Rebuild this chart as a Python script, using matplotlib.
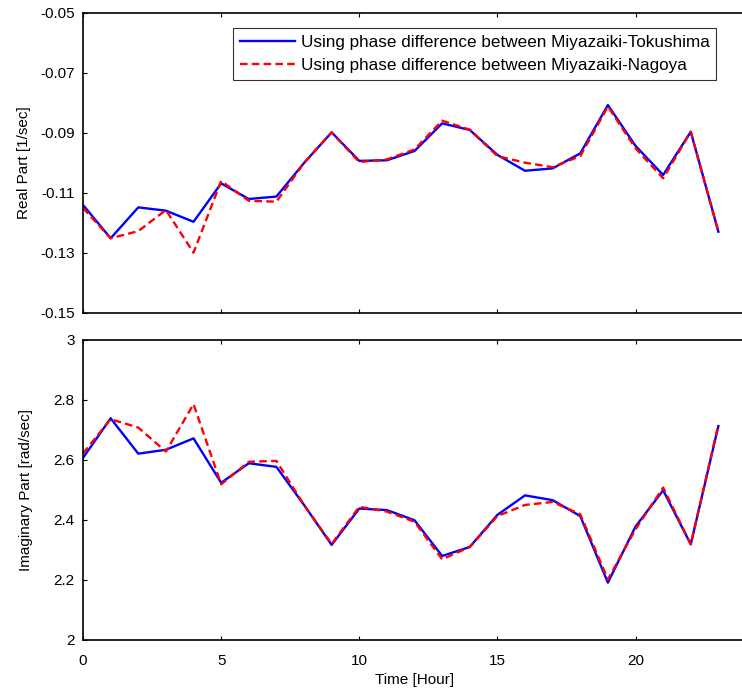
import matplotlib
matplotlib.use('Agg')
import matplotlib.pyplot as plt

plt.rcParams['font.family'] = ['Liberation Sans', 'DejaVu Sans']
plt.rcParams['font.size'] = 11

hours = list(range(24))

real_tokushima = [-0.114, -0.1251, -0.1148, -0.1159, -0.1196, -0.1068, -0.112, -0.1112,
                  -0.100, -0.0898, -0.0993, -0.0991, -0.0960, -0.0868, -0.0890, -0.0973,
                  -0.1026, -0.1018, -0.0968, -0.0807, -0.0943, -0.1040, -0.0896, -0.1229]
real_nagoya = [-0.115, -0.1251, -0.1227, -0.1157, -0.1299, -0.1060, -0.1126, -0.1129,
               -0.100, -0.0898, -0.0997, -0.0988, -0.0955, -0.0859, -0.0889, -0.0977,
               -0.0999, -0.1014, -0.0977, -0.0812, -0.0951, -0.1051, -0.0896, -0.1229]

imag_tokushima = [2.607, 2.739, 2.621, 2.634, 2.672, 2.524, 2.589, 2.577,
                  2.45, 2.317, 2.438, 2.433, 2.399, 2.280, 2.310, 2.417,
                  2.482, 2.466, 2.413, 2.191, 2.378, 2.499, 2.319, 2.713]
imag_nagoya = [2.622, 2.736, 2.708, 2.628, 2.786, 2.519, 2.594, 2.597,
               2.45, 2.320, 2.444, 2.428, 2.394, 2.269, 2.310, 2.413,
               2.450, 2.460, 2.419, 2.202, 2.369, 2.508, 2.319, 2.718]

real_ticks = [-0.15, -0.13, -0.11, -0.09, -0.07, -0.05]
imag_ticks = [2, 2.2, 2.4, 2.6, 2.8, 3]
hour_ticks = [0, 5, 10, 15, 20]

label_tok = 'Using phase difference between Miyazaiki-Tokushima'
label_nag = 'Using phase difference between Miyazaiki-Nagoya'

fig = plt.figure(figsize=(7.42, 6.9), dpi=100)
ax1 = fig.add_axes([0.1119, 0.5464, 0.8935, 0.4348])
ax2 = fig.add_axes([0.1119, 0.0725, 0.8935, 0.4348])

dash = (0, (3.2, 1.8))
ax1.plot(hours, real_tokushima, color='blue', lw=1.7, label=label_tok)
ax1.plot(hours, real_nagoya, color='red', lw=1.7, linestyle=dash, label=label_nag)
ax2.plot(hours, imag_tokushima, color='blue', lw=1.7)
ax2.plot(hours, imag_nagoya, color='red', lw=1.7, linestyle=dash)

ax1.set_ylim(-0.15, -0.05)
ax1.set_yticks(real_ticks)
ax1.set_yticklabels(['%.2f' % t for t in real_ticks])
ax2.set_ylim(2, 3)
ax2.set_yticks(imag_ticks)
ax2.set_yticklabels(['%g' % t for t in imag_ticks])

for ax in (ax1, ax2):
    ax.set_xlim(0, 24)
    ax.set_xticks(hour_ticks)
    ax.tick_params(direction='in', top=True, right=True, length=3, width=0.8)
    ax.tick_params(axis='y', pad=6)
    ax.tick_params(axis='x', pad=10)
    ax.spines['right'].set_visible(False)
    for s in ax.spines.values():
        s.set_linewidth(1.2)
ax1.set_xticklabels([])

ax1.set_ylabel('Real Part [1/sec]')
ax2.set_ylabel('Imaginary Part [rad/sec]')
ax1.yaxis.set_label_coords(-0.079, 0.5)
ax2.yaxis.set_label_coords(-0.076, 0.5)
ax2.set_xlabel('Time [Hour]', labelpad=4)

leg = ax1.legend(loc='upper right', bbox_to_anchor=(0.968, 0.977), frameon=True,
                 fancybox=False, edgecolor='black', handlelength=3.2,
                 borderpad=0.4, labelspacing=0.45, handletextpad=0.35, fontsize=12.3)
leg.get_frame().set_linewidth(0.8)

fig.savefig('out.png', dpi=100)
